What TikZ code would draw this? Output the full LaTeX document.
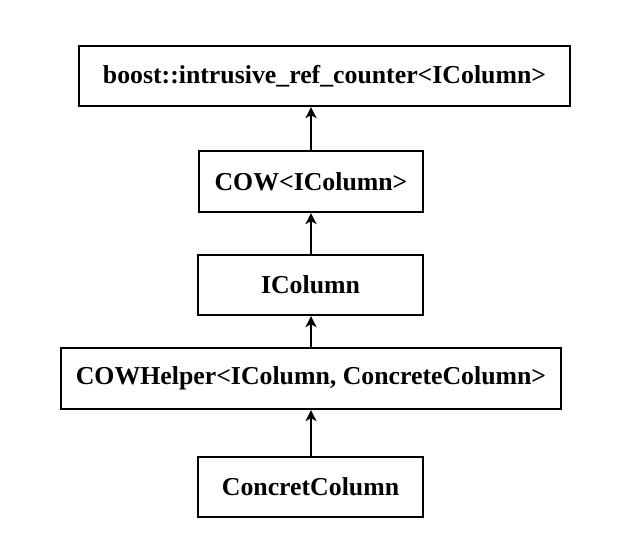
\documentclass[tikz,border=0pt]{standalone}
\usepackage{fontspec}
\setmainfont{Liberation Serif}
\usetikzlibrary{arrows.meta}
\begin{document}
\begin{tikzpicture}[x=1pt,y=-1pt,
  box/.style={draw,line width=2.2pt,inner sep=0pt,font=\fontsize{25.8}{30}\selectfont\bfseries},
  conn/.style={line width=2.4pt,-{Stealth[length=11pt,width=11pt,inset=3pt]}}]
\useasboundingbox (0,0) rectangle (642,549);
\node[box,minimum width=491pt,minimum height=60pt] (a) at (324.5,76) {boost::intrusive\_ref\_counter<IColumn>};
\node[box,minimum width=224pt,minimum height=61pt] (b) at (311,181.5) {COW<IColumn>};
\node[box,minimum width=225pt,minimum height=60pt] (c) at (310.5,285) {IColumn};
\node[box,minimum width=500pt,minimum height=61pt] (d) at (311,378.5) {COWHelper<IColumn, ConcreteColumn>};
\node[box,minimum width=225pt,minimum height=60pt] (e) at (310.5,487) {ConcretColumn};
\draw[conn] (b.north -| 311,0) -- (a.south -| 311,0);
\draw[conn] (c.north -| 311,0) -- (b.south -| 311,0);
\draw[conn] (d.north -| 311,0) -- (c.south -| 311,0);
\draw[conn] (e.north -| 311,0) -- (d.south -| 311,0);
\end{tikzpicture}
\end{document}
